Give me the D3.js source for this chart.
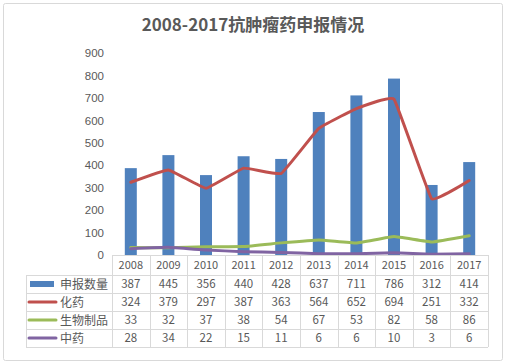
<!DOCTYPE html>
<html><head><meta charset="utf-8">
<script src="https://cdn.jsdelivr.net/npm/d3@7"></script>
<style>body{margin:0;background:#fff;}svg{display:block;font-family:"Noto Sans CJK SC","Noto Sans",sans-serif;}</style>
</head><body>
<svg id="c" width="505" height="363"></svg>
<script>
const years = ["2008","2009","2010","2011","2012","2013","2014","2015","2016","2017"];
const seriesNames = ["申报数量","化药","生物制品","中药"];
const shenbao = [387,445,356,440,428,637,711,786,312,414];
const huayao = [324,379,297,387,363,564,652,694,251,332];
const shengwu = [33,32,37,38,54,67,53,82,58,86];
const zhongyao = [28,34,22,15,11,6,6,10,3,6];
const yTicks = [0,100,200,300,400,500,600,700,800,900];
const title = "2008-2017抗肿瘤药申报情况";

(function(){
const colors = ["#4F81BD","#C0504D","#9BBB59","#8064A2"];
const allSeries = [shenbao, huayao, shengwu, zhongyao];
const svg = d3.select("#c");
const textCol = "#595959", gridCol = "#D9D9D9";

svg.append("rect").attr("x",3.5).attr("y",3.5).attr("width",499).attr("height",357)
  .attr("fill","#fff").attr("stroke","#D9D9D9").attr("rx",2);

svg.append("text").attr("x",253).attr("y",31).attr("text-anchor","middle")
  .attr("font-size",17).attr("font-weight","bold").attr("fill",textCol).text(title);

const pl = 112, pr = 488, pt = 53, pb = 255;
const x = d3.scaleBand().domain(years).range([pl,pr]);
const y = d3.scaleLinear().domain([0,900]).range([pb,pt]);

const yAxis = svg.append("g").attr("transform",`translate(${pl},0)`)
  .call(d3.axisLeft(y).tickValues(yTicks).tickSize(0).tickPadding(8));
yAxis.select(".domain").remove();
yAxis.selectAll("text").attr("fill",textCol).attr("font-size",11.5);

svg.append("g").selectAll("rect").data(shenbao).join("rect")
  .attr("x",(d,i)=>x(years[i])+x.bandwidth()/2-6).attr("width",12)
  .attr("y",d=>y(d)).attr("height",d=>pb-y(d)).attr("fill",colors[0]);

[1,2,3].forEach(k=>{
  const line = d3.line().curve(d3.curveCardinal.tension(0.75))
    .x((d,i)=>x(years[i])+x.bandwidth()/2).y(d=>y(d));
  svg.append("path").datum(allSeries[k]).attr("d",line).attr("fill","none")
    .attr("stroke",colors[k]).attr("stroke-width",3).attr("stroke-linejoin","round").attr("stroke-linecap","round");
});

const rowY = [255,275,293,311,329,347];
const tableLeft = 26;
const g = svg.append("g").attr("stroke",gridCol).attr("stroke-width",1).attr("fill","none");
g.append("line").attr("x1",pl).attr("x2",pr).attr("y1",rowY[0]+0.5).attr("y2",rowY[0]+0.5);
for(let r=1;r<rowY.length;r++){
  g.append("line").attr("x1",tableLeft).attr("x2",pr).attr("y1",rowY[r]+0.5).attr("y2",rowY[r]+0.5);
}
const xs = years.map(yy=>x(yy)).concat([pr]);
xs.forEach(xx=>{
  g.append("line").attr("x1",Math.round(xx)+0.5).attr("x2",Math.round(xx)+0.5).attr("y1",rowY[0]).attr("y2",rowY[5]);
});
g.append("line").attr("x1",tableLeft+0.5).attr("x2",tableLeft+0.5).attr("y1",rowY[1]).attr("y2",rowY[5]);

svg.append("g").selectAll("text").data(years).join("text")
  .attr("x",d=>x(d)+x.bandwidth()/2).attr("y",(rowY[0]+rowY[1])/2+4)
  .attr("text-anchor","middle").attr("font-size",11).attr("fill",textCol).text(d=>d);

allSeries.forEach((s,k)=>{
  const cy = (rowY[k+1]+rowY[k+2])/2;
  svg.append("g").selectAll("text").data(s).join("text")
    .attr("x",(d,i)=>x(years[i])+x.bandwidth()/2).attr("y",cy+4)
    .attr("text-anchor","middle").attr("font-size",11.5).attr("fill",textCol).text(d=>d);
  if(k===0){
    svg.append("rect").attr("x",30).attr("y",cy-3).attr("width",24).attr("height",6).attr("fill",colors[0]);
  } else {
    svg.append("line").attr("x1",29).attr("x2",56).attr("y1",cy).attr("y2",cy)
      .attr("stroke",colors[k]).attr("stroke-width",3).attr("stroke-linecap","round");
  }
  svg.append("text").attr("x",60).attr("y",cy+4.5).attr("font-size",12).attr("fill",textCol).text(seriesNames[k]);
});
})();
</script>
</body></html>
